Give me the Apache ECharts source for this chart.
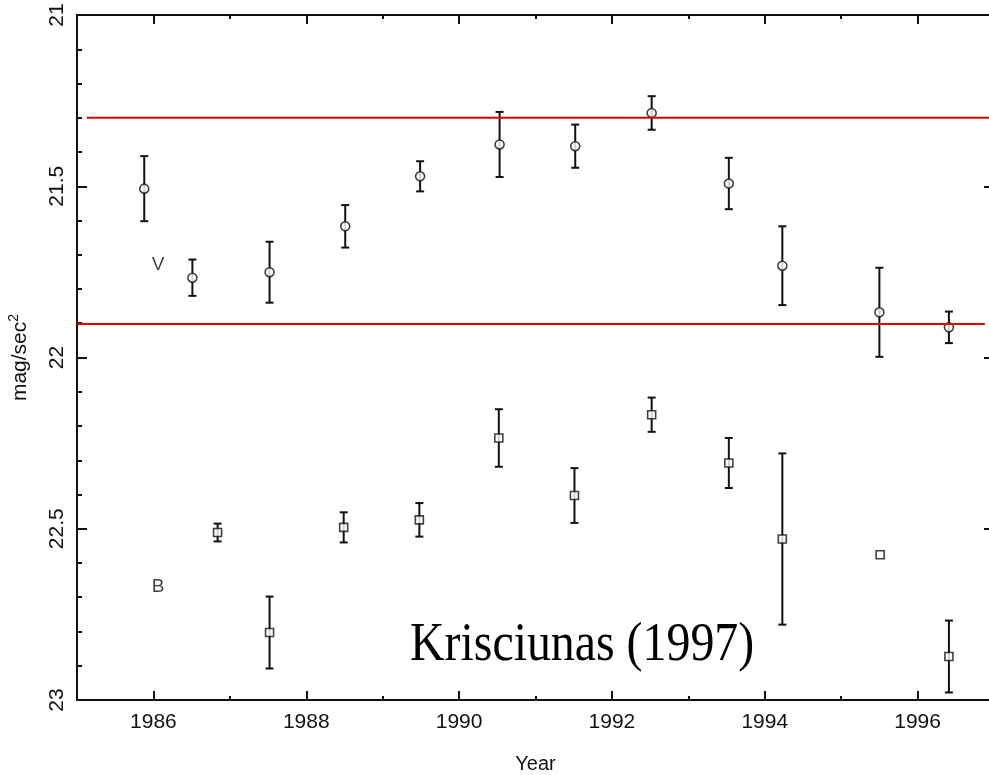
<!DOCTYPE html>
<html>
<head>
<meta charset="utf-8">
<script src="https://cdn.jsdelivr.net/npm/echarts@6/dist/echarts.min.js"></script>
<style>
  html, body { margin: 0; padding: 0; background: #fff; }
  #chart { width: 989px; height: 775px; }
</style>
</head>
<body>
<div id="chart"></div>
<script>
// V band (circles)
let vYears = [1985.88, 1986.51, 1987.52, 1988.51, 1989.49, 1990.53, 1991.52, 1992.52, 1993.53, 1994.23, 1995.50, 1996.41]
let vMag = [21.507, 21.767, 21.751, 21.617, 21.471, 21.378, 21.383, 21.286, 21.492, 21.732, 21.868, 21.912]
let vErr = [0.095, 0.053, 0.089, 0.062, 0.044, 0.095, 0.063, 0.049, 0.075, 0.115, 0.13, 0.046]

// B band (squares)
let bYears = [1986.84, 1987.52, 1988.49, 1989.48, 1990.52, 1991.51, 1992.52, 1993.53, 1994.23, 1995.51, 1996.41]
let bMag = [22.511, 22.803, 22.496, 22.474, 22.235, 22.403, 22.167, 22.308, 22.53, 22.576, 22.873]
let bErr = [0.026, 0.105, 0.044, 0.049, 0.084, 0.08, 0.05, 0.073, 0.25, 0, 0.105]

// red reference lines
let redTop = { x: [1985.13, 1997], y: 21.3 }
let redBottom = { x: [1985, 1996.88], y: 21.902 }

let xTicks = [1986, 1988, 1990, 1992, 1994, 1996]
let xMinorTicks = [1985, 1987, 1989, 1991, 1993, 1995, 1997]
let yTicks = [21, 21.5, 22, 22.5, 23]

let chart = echarts.init(document.getElementById('chart'))

function errData(years, mags, errs) {
  return years.map((x, i) => [x, mags[i] - errs[i], mags[i] + errs[i]])
}

function renderErr(params, api) {
  let x = api.value(0)
  let top = api.coord([x, api.value(1)])
  let bot = api.coord([x, api.value(2)])
  if (bot[1] - top[1] < 3) return null
  let w = 4
  let st = { stroke: '#111', lineWidth: 2 }
  return {
    type: 'group',
    children: [
      { type: 'line', shape: { x1: top[0], y1: top[1], x2: bot[0], y2: bot[1] }, style: st },
      { type: 'line', shape: { x1: top[0] - w, y1: top[1], x2: top[0] + w, y2: top[1] }, style: st },
      { type: 'line', shape: { x1: bot[0] - w, y1: bot[1], x2: bot[0] + w, y2: bot[1] }, style: st }
    ]
  }
}

let labelFont = '"Liberation Sans", Arial, sans-serif'
let tickStyle = { color: '#111', width: 2 }

// one x axis drawing major (even) or minor (odd) ticks
function xAxisDef(pos, major, extra) {
  return Object.assign({
    type: 'value', min: 1985, max: 1997, interval: 1, position: pos,
    axisLine: { show: major, lineStyle: { color: '#111', width: 2 } },
    axisTick: {
      inside: true, length: major ? 9 : 4, lineStyle: tickStyle,
      customValues: major ? xTicks : xMinorTicks
    },
    axisLabel: { show: false },
    splitLine: { show: false }
  }, extra || {})
}

let option = {
  backgroundColor: '#fff',
  animation: false,
  grid: { left: 77, right: -5, top: 15, bottom: 75, containLabel: false, outerBoundsMode: 'none' },
  xAxis: [
    xAxisDef('bottom', true, {
      name: 'Year', nameLocation: 'middle', nameGap: 54,
      nameTextStyle: { fontFamily: labelFont, fontSize: 20, color: '#111' },
      axisLabel: {
        show: true, customValues: xTicks, formatter: v => String(v),
        fontFamily: labelFont, fontSize: 21, color: '#111', margin: 12
      }
    }),
    xAxisDef('bottom', false),
    xAxisDef('top', true),
    xAxisDef('top', false)
  ],
  yAxis: [
    {
      type: 'value', min: 21, max: 23, interval: 0.5, inverse: true,
      name: 'mag/sec{sup|2}', nameLocation: 'middle', nameGap: 44, nameRotate: 90,
      nameTextStyle: {
        fontFamily: labelFont, fontSize: 21, color: '#111',
        rich: { sup: { fontSize: 14, verticalAlign: 'top', padding: [0, 0, 12, 0], fontFamily: labelFont, color: '#111' } }
      },
      axisLine: { lineStyle: { color: '#111', width: 2 } },
      axisTick: { inside: true, length: 10, lineStyle: tickStyle },
      minorTick: { show: true, splitNumber: 5, length: 5, lineStyle: tickStyle },
      axisLabel: {
        fontFamily: labelFont, fontSize: 21, color: '#111', rotate: 90, margin: 9,
        formatter: v => yTicks.includes(v) ? String(v) : ''
      },
      splitLine: { show: false }
    },
    {
      type: 'value', min: 21, max: 23, interval: 0.5, inverse: true, position: 'right',
      axisLine: { lineStyle: { color: '#111', width: 2 } },
      axisTick: { inside: true, length: 10, lineStyle: tickStyle },
      minorTick: { show: true, splitNumber: 5, length: 5, lineStyle: tickStyle },
      axisLabel: { show: false },
      splitLine: { show: false }
    }
  ],
  series: [
    {
      type: 'custom', name: 'V err', renderItem: renderErr,
      data: errData(vYears, vMag, vErr), z: 3
    },
    {
      type: 'custom', name: 'B err', renderItem: renderErr,
      data: errData(bYears, bMag, bErr), z: 3
    },
    {
      type: 'scatter', name: 'V', symbol: 'circle', symbolSize: 9,
      itemStyle: { color: '#fff', borderColor: '#111', borderWidth: 1.6 },
      data: vYears.map((x, i) => [x, vMag[i]]), z: 4
    },
    {
      type: 'scatter', name: 'B', symbol: 'rect', symbolSize: 8,
      itemStyle: { color: '#fff', borderColor: '#111', borderWidth: 1.6 },
      data: bYears.map((x, i) => [x, bMag[i]]), z: 4
    },
    {
      type: 'line', symbol: 'none', lineStyle: { color: '#e00000', width: 2 },
      data: redTop.x.map(x => [x, redTop.y]), z: 5
    },
    {
      type: 'line', symbol: 'none', lineStyle: { color: '#e00000', width: 2 },
      data: redBottom.x.map(x => [x, redBottom.y]), z: 5
    },
    {
      type: 'scatter', symbolSize: 0, silent: true,
      label: {
        show: true, position: 'inside', formatter: p => p.name,
        fontFamily: labelFont, fontSize: 19, color: '#111'
      },
      data: [
        { name: 'V', value: [1986.06, 21.73] },
        { name: 'B', value: [1986.06, 22.67] }
      ]
    }
  ],
  graphic: [
    {
      type: 'text', x: 410, y: 618, scaleX: 0.87, scaleY: 1,
      style: { text: 'Krisciunas (1997)', font: '55px "Liberation Serif", "Times New Roman", serif', fill: '#000' }
    }
  ]
}

chart.setOption(option)
</script>
</body>
</html>
